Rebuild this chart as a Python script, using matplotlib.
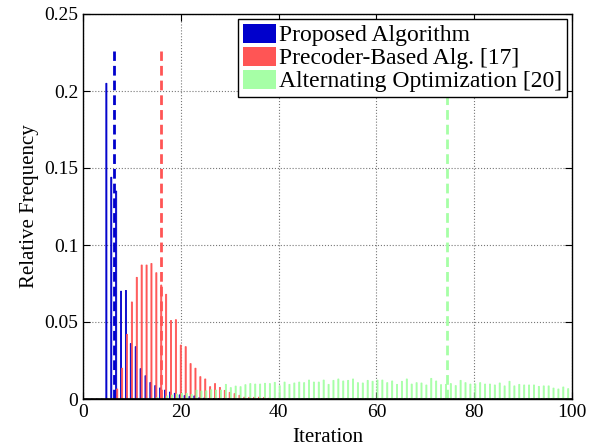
import numpy as np
import matplotlib
matplotlib.use('Agg')
import matplotlib.pyplot as plt
from matplotlib.patches import Patch

# Data (relative frequency per iteration, 1..100)
iterations = np.arange(1, 101)

proposed = [0, 0, 0, 0, 0.205, 0.144, 0.135, 0.070, 0.0705, 0.036,
            0.034, 0.0197, 0.0151, 0.0107, 0.0087, 0.0072, 0.0058, 0.0045, 0.0037, 0.0027,
            0.0022, 0.0016, 0.0020, 0.0008, 0.0006, 0.0004, 0.0004, 0.0003, 0.0003, 0.0002,
            0, 0, 0, 0, 0, 0, 0, 0, 0, 0,
            0, 0, 0, 0, 0, 0, 0, 0, 0, 0,
            0, 0, 0, 0, 0, 0, 0, 0, 0, 0,
            0, 0, 0, 0, 0, 0, 0, 0, 0, 0,
            0, 0, 0, 0, 0, 0, 0, 0, 0, 0,
            0, 0, 0, 0, 0, 0, 0, 0, 0, 0,
            0, 0, 0, 0, 0, 0, 0, 0, 0, 0]

precoder = [0, 0, 0, 0, 0, 0, 0.0065, 0.020, 0.042, 0.063,
            0.079, 0.087, 0.087, 0.088, 0.082, 0.074, 0.068, 0.051, 0.0515, 0.035,
            0.034, 0.023, 0.020, 0.0145, 0.013, 0.008, 0.010, 0.0075, 0.0056, 0.0043,
            0.0035, 0.0024, 0.0012, 0.0011, 0.0011, 0.0012, 0.0009, 0.0005, 0.0004, 0.0003,
            0, 0, 0, 0, 0, 0, 0, 0, 0, 0,
            0, 0, 0, 0, 0, 0, 0, 0, 0, 0,
            0, 0, 0, 0, 0, 0, 0, 0, 0, 0,
            0, 0, 0, 0, 0, 0, 0, 0, 0, 0,
            0, 0, 0, 0, 0, 0, 0, 0, 0, 0,
            0, 0, 0, 0, 0, 0, 0, 0, 0, 0]

alternating = [0, 0, 0, 0, 0, 0, 0, 0, 0, 0,
               0.0002, 0.0002, 0.0004, 0.0005, 0.0010, 0.0015, 0.0020, 0.0026, 0.0032, 0.0036,
               0.0036, 0.0030, 0.0058, 0.0052, 0.0053, 0.0060, 0.0058, 0.0058, 0.0095, 0.0074,
               0.0084, 0.0080, 0.0093, 0.0100, 0.0097, 0.0097, 0.0102, 0.0100, 0.0108, 0.0087,
               0.0110, 0.0095, 0.0104, 0.0110, 0.0106, 0.0123, 0.0110, 0.0110, 0.0123, 0.0095,
               0.0121, 0.0130, 0.0117, 0.0121, 0.0130, 0.0106, 0.0104, 0.0121, 0.0115, 0.0123,
               0.0123, 0.0106, 0.0117, 0.0095, 0.0115, 0.0130, 0.0097, 0.0106, 0.0104, 0.0091,
               0.0134, 0.0117, 0.0093, 0.0095, 0.0100, 0.0087, 0.0121, 0.0106, 0.0097, 0.0098,
               0.0106, 0.0097, 0.0097, 0.0091, 0.0104, 0.0085, 0.0115, 0.0085, 0.0095, 0.0091,
               0.0091, 0.0091, 0.0082, 0.0085, 0.0085, 0.0071, 0.0065, 0.0078, 0.0067, 0.0065]

# average number of iterations (dashed markers)
mean_iters = [6.35, 16.0, 74.5]
mean_height = 0.226

labels = ['Proposed Algorithm', 'Precoder-Based Alg. [17]', 'Alternating Optimization [20]']
colors = ['#0000CC', '#FF5555', '#A6FFA6']

plt.rcParams['font.family'] = ['Liberation Serif', 'DejaVu Serif']

fig = plt.figure(figsize=(5.89, 4.46), dpi=100)
ax = fig.add_axes([83/589, 47/446, 489/589, 385/446])

w = 0.22
series = [proposed, precoder, alternating]
offsets = [-0.22, 0.0, 0.22]
for vals, off, c in zip(series, offsets, colors):
    ax.bar(iterations + off, vals, width=w, color=c, edgecolor=c, linewidth=0.6, snap=False)
ax.axhline(0, color='k', lw=1.2, zorder=3)

for m, c in zip(mean_iters, colors):
    ax.plot([m, m], [0, mean_height], color=c, lw=2.0, linestyle=(0, (3.5, 1.8)))

ax.set_xlim(0, 100)
ax.set_ylim(0, 0.25)
ax.set_xticks([0, 20, 40, 60, 80, 100])
ax.set_yticks([0, 0.05, 0.1, 0.15, 0.2, 0.25])
ax.set_yticklabels(['0', '0.05', '0.1', '0.15', '0.2', '0.25'])
ax.grid(True, linestyle=':', color='#777777', lw=0.8)
ax.set_axisbelow(True)
ax.tick_params(direction='in', top=True, right=True, length=5, labelsize=14, width=0.8)
for s in ax.spines.values():
    s.set_linewidth(1.0)

ax.set_xlabel('Iteration', fontsize=15, labelpad=5)
ax.set_ylabel('Relative Frequency', fontsize=15, labelpad=4)

handles = [Patch(facecolor=c, edgecolor='none') for c in colors]
leg = ax.legend(handles, labels, loc='upper right', bbox_to_anchor=(0.99, 0.987),
                fontsize=17, frameon=True, fancybox=False, edgecolor='black',
                framealpha=1, borderpad=0.2, labelspacing=0.02, handletextpad=0.15,
                handlelength=1.4, handleheight=0.85, borderaxespad=0)
leg.get_frame().set_linewidth(1.0)

fig.savefig('out.png', dpi=100)
